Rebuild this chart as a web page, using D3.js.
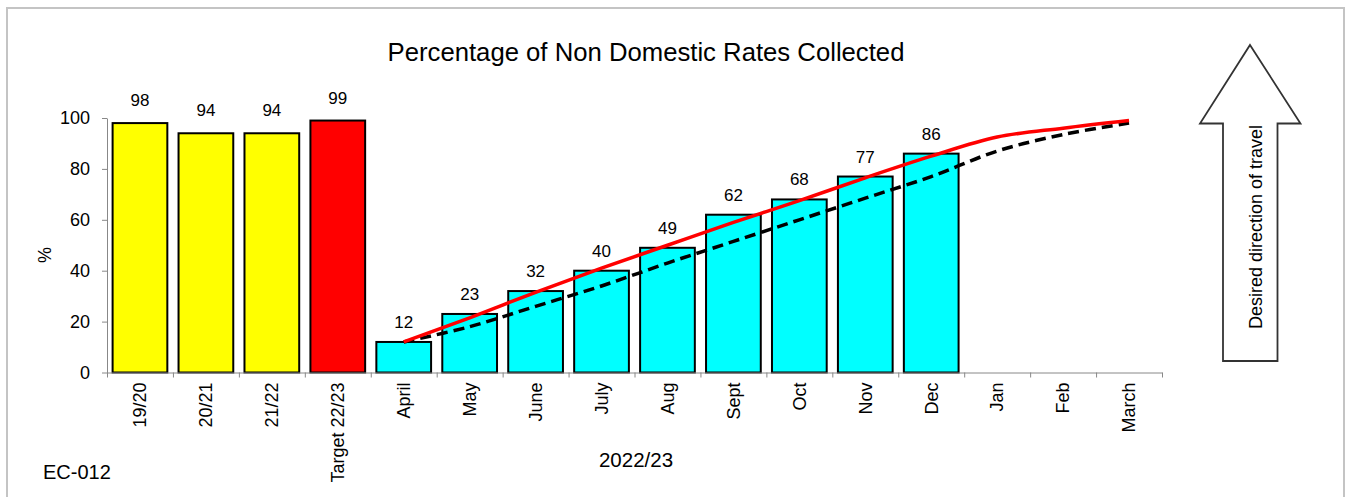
<!DOCTYPE html>
<html>
<head>
<meta charset="utf-8">
<script src="https://cdn.jsdelivr.net/npm/d3@7"></script>
<style>
  body { margin: 0; background: #fff; }
  text { font-family: "Liberation Sans", Arial, sans-serif; fill: #000; }
</style>
</head>
<body>
<div id="chart"></div>
<script>
const WIDTH = 1351;
const HEIGHT = 497;

// data
const yearLabels = ['19/20', '20/21', '21/22'];
const yearValues = [98, 94, 94];
const targetLabel = 'Target 22/23';
const targetValue = 99;
const months = ['April', 'May', 'June', 'July', 'Aug', 'Sept', 'Oct', 'Nov', 'Dec', 'Jan', 'Feb', 'March'];
const monthActual = [12, 23, 32, 40, 49, 62, 68, 77, 86];
const monthTarget = [12, 21.5, 31.5, 41, 50, 59, 67.5, 76.5, 85, 92.5, 96, 99];
const monthProfile = [12, 18, 26, 34, 43, 51.5, 60, 68.5, 77, 87, 93.5, 98];
const yTicks = [0, 20, 40, 60, 80, 100];

const categories = yearLabels.concat([targetLabel], months);

const fills = { year: '#ffff00', target: '#ff0000', month: '#00ffff' };

let bars = [];
yearLabels.forEach((c, i) => bars.push({ cat: c, value: yearValues[i], kind: 'year' }));
bars.push({ cat: targetLabel, value: targetValue, kind: 'target' });
monthActual.forEach((v, i) => bars.push({ cat: months[i], value: v, kind: 'month' }));

var svg = d3.select('#chart')
    .append('svg')
    .attr('width', WIDTH)
    .attr('height', HEIGHT);

// chart area frame
svg.append('rect')
    .attr('x', 7)
    .attr('y', 8)
    .attr('width', 1337)
    .attr('height', 520)
    .attr('fill', '#fff')
    .attr('stroke', '#c4c4c4')
    .attr('stroke-width', 2);

const plotLeft = 107, plotRight = 1162, plotTop = 118, plotBottom = 372.5;

let x = d3.scaleBand()
    .domain(categories)
    .range([plotLeft, plotRight])
    .paddingInner(0.17)
    .paddingOuter(0.085);

let xIndex = d3.scaleLinear()
    .domain([0, categories.length])
    .range([plotLeft, plotRight]);

let y = d3.scaleLinear()
    .domain([0, 100])
    .range([plotBottom, plotTop]);

// title
svg.append('text')
    .attr('x', 646)
    .attr('y', 61)
    .attr('text-anchor', 'middle')
    .style('font-size', '25.7px')
    .text('Percentage of Non Domestic Rates Collected');

// y axis
let yAxis = svg.append('g')
    .attr('transform', `translate(${plotLeft},0)`)
    .call(d3.axisLeft(y).tickValues(yTicks).tickSize(5).tickPadding(12).tickSizeOuter(0));
yAxis.select('.domain').attr('stroke', '#888');
yAxis.selectAll('.tick line').attr('stroke', '#888');
yAxis.selectAll('.tick text').style('font-size', '18px').attr('fill', '#000');

svg.append('text')
    .attr('transform', 'translate(51,255) rotate(-90)')
    .attr('text-anchor', 'middle')
    .style('font-size', '18px')
    .text('%');

// bars
svg.append('g')
    .selectAll('rect')
    .data(bars)
    .enter()
    .append('rect')
    .attr('x', d => x(d.cat))
    .attr('y', d => y(d.value))
    .attr('width', x.bandwidth())
    .attr('height', d => y(0) - y(d.value))
    .attr('fill', d => fills[d.kind])
    .attr('stroke', '#000')
    .attr('stroke-width', 2);

// value labels
svg.append('g')
    .selectAll('text')
    .data(bars)
    .enter()
    .append('text')
    .attr('x', d => x(d.cat) + x.bandwidth() / 2)
    .attr('y', d => y(d.value) - (d.kind == 'month' ? 14 : 17))
    .attr('text-anchor', 'middle')
    .style('font-size', '17px')
    .text(d => d.value);

// x axis: tick marks at the band edges
let xAxis = svg.append('g')
    .attr('transform', `translate(0,${plotBottom})`)
    .call(d3.axisBottom(xIndex)
        .tickValues(d3.range(categories.length + 1))
        .tickSize(5)
        .tickSizeOuter(0)
        .tickFormat(''));
xAxis.select('.domain').attr('stroke', '#888');
xAxis.selectAll('.tick line').attr('stroke', '#888');

svg.append('g')
    .selectAll('text')
    .data(categories)
    .enter()
    .append('text')
    .attr('transform', d => `translate(${x(d) + x.bandwidth() / 2},${plotBottom + 10}) rotate(-90)`)
    .attr('text-anchor', 'end')
    .attr('dy', '0.35em')
    .style('font-size', '18px')
    .text(d => d);

// target and profile lines
let line = d3.line()
    .x((d, i) => x(months[i]) + x.bandwidth() / 2)
    .y(d => y(d))
    .curve(d3.curveCatmullRom.alpha(0.5));

svg.append('path')
    .datum(monthProfile)
    .attr('d', line)
    .attr('fill', 'none')
    .attr('stroke', '#000')
    .attr('stroke-width', 3.5)
    .attr('stroke-dasharray', '11,6');

svg.append('path')
    .datum(monthTarget)
    .attr('d', line)
    .attr('fill', 'none')
    .attr('stroke', '#ff0000')
    .attr('stroke-width', 3.5);

svg.append('text')
    .attr('x', 636)
    .attr('y', 467)
    .attr('text-anchor', 'middle')
    .style('font-size', '20.5px')
    .text('2022/23');

svg.append('text')
    .attr('x', 43)
    .attr('y', 479)
    .style('font-size', '20px')
    .text('EC-012');

// desired direction arrow
let arrow = [[1250, 45], [1300.5, 123.5], [1277.5, 123.5], [1277.5, 361], [1223, 361], [1223, 123.5], [1200, 123.5]];
svg.append('path')
    .attr('d', d3.line()(arrow) + 'Z')
    .attr('fill', '#fff')
    .attr('stroke', '#333')
    .attr('stroke-width', 1.8);

svg.append('text')
    .attr('transform', 'translate(1262,227) rotate(-90)')
    .attr('text-anchor', 'middle')
    .style('font-size', '18px')
    .text('Desired direction of travel');
</script>
</body>
</html>
